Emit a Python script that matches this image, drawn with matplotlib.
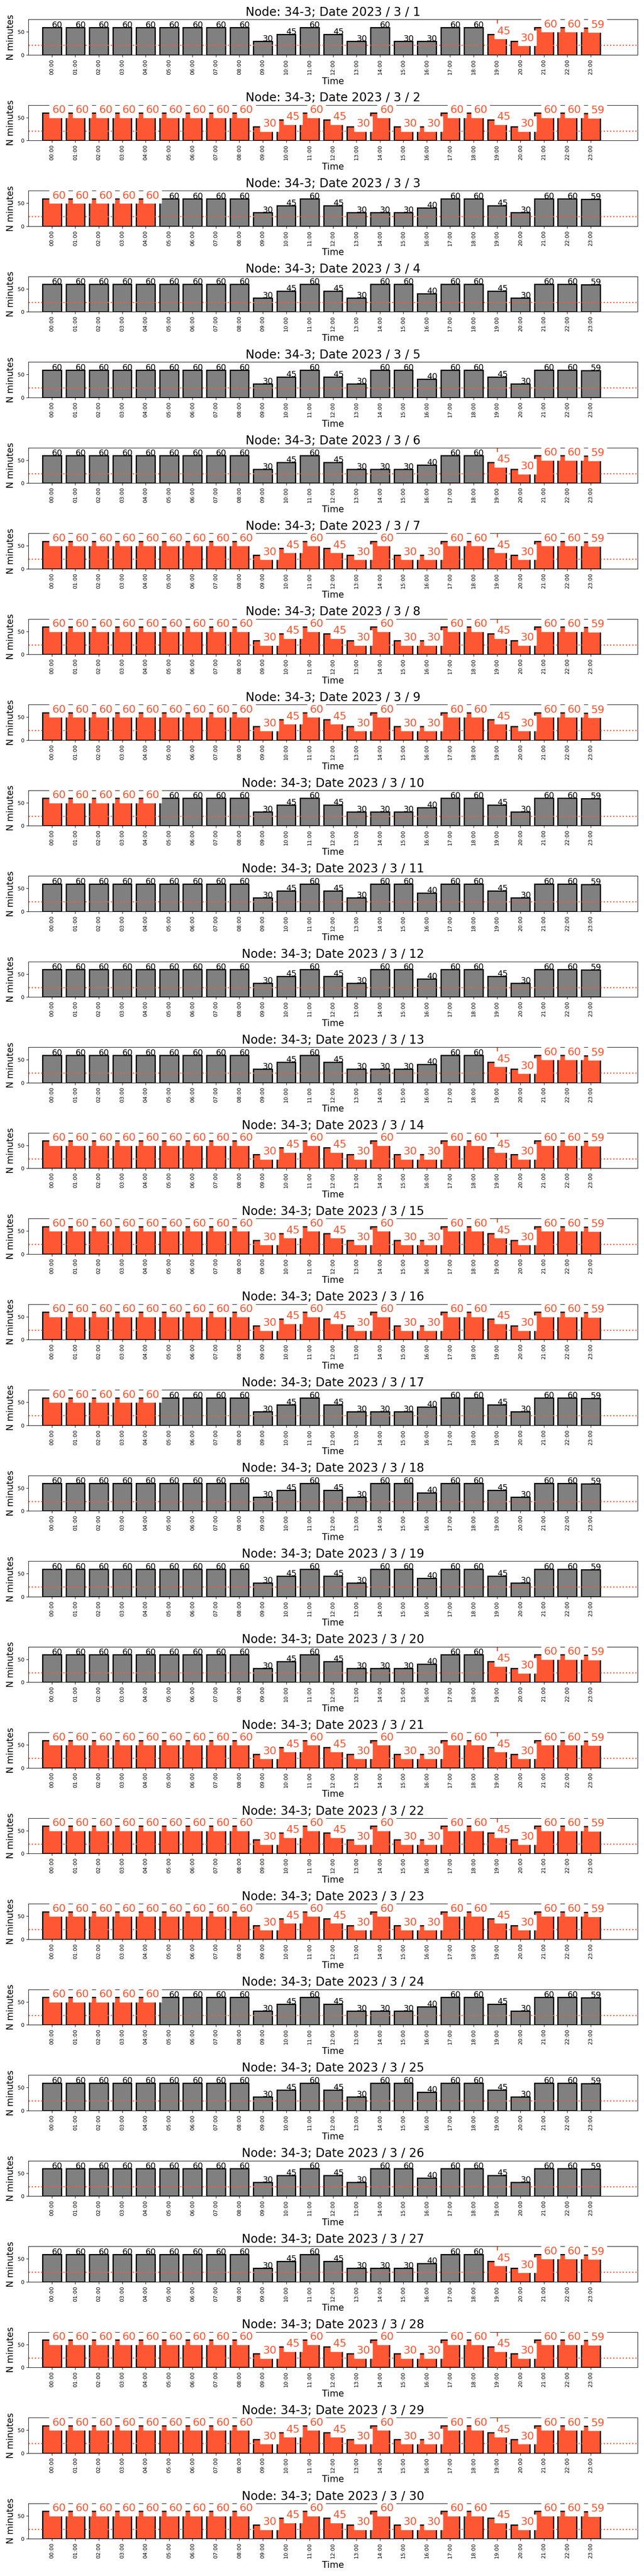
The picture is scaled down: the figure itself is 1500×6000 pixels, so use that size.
import matplotlib.pyplot as plt

# hour labels on the x axis
hours = ["00:00", "01:00", "02:00", "03:00", "04:00", "05:00", "06:00", "07:00",
         "08:00", "09:00", "10:00", "11:00", "12:00", "13:00", "14:00", "15:00",
         "16:00", "17:00", "18:00", "19:00", "20:00", "21:00", "22:00", "23:00"]

# minutes per hour, three day profiles seen in the chart
weekend_vals = [60, 60, 60, 60, 60, 60, 60, 60, 60, 30, 45, 60,
                45, 30, 60, 60, 40, 60, 60, 45, 30, 60, 60, 59]
midweek_vals = [60, 60, 60, 60, 60, 60, 60, 60, 60, 30, 45, 60,
                45, 30, 60, 30, 30, 60, 60, 45, 30, 60, 60, 59]
monfri_vals = [60, 60, 60, 60, 60, 60, 60, 60, 60, 30, 45, 60,
               45, 30, 30, 30, 40, 60, 60, 45, 30, 60, 60, 59]

days = list(range(1, 31))
day_profile = ["mid", "mid", "mf", "we", "we", "mf", "mid", "mid", "mid", "mf",
               "we", "we", "mf", "mid", "mid", "mid", "mf", "we", "we", "mf",
               "mid", "mid", "mid", "mf", "we", "we", "mf", "mid", "mid", "mid"]

# which hours are highlighted on each day
red_mode = ["eve", "all", "morn", "none", "none", "eve", "all", "all", "all", "morn",
            "none", "none", "eve", "all", "all", "all", "morn", "none", "none", "eve",
            "all", "all", "all", "morn", "none", "none", "eve", "all", "all", "all"]
red_hours = {"eve": [19, 20, 21, 22, 23],
             "morn": [0, 1, 2, 3, 4],
             "all": list(range(24)),
             "none": []}

# days with the red marker line at 19:00
marker_days = [1, 6, 7, 8, 13, 14, 15, 20, 21, 22, 27, 28, 29]

threshold = 21
RED = "#FF5733"

profiles = {"we": weekend_vals, "mid": midweek_vals, "mf": monfri_vals}

fig, axes = plt.subplots(len(days), 1, figsize=(15, 60))

for k, ax in enumerate(axes):
    vals = profiles[day_profile[k]]
    red = red_hours[red_mode[k]]
    x = list(range(len(hours)))
    colors = [RED if i in red else "gray" for i in x]

    ax.bar(x, vals, color=colors, edgecolor="black", linewidth=2, width=0.8)
    ax.axhline(threshold, color=RED, linestyle=":", linewidth=2)
    if days[k] in marker_days:
        ax.axvline(19, color=RED, linewidth=2, zorder=2)

    for i, v in enumerate(vals):
        if i in red:
            ax.text(i, v, str(v), fontsize=18, color=RED,
                    bbox=dict(facecolor="white", edgecolor="white"))
        else:
            ax.text(i, v, str(v), fontsize=14)

    ax.set_xticks(x)
    ax.set_xticklabels(hours, rotation=90, fontsize=9)
    ax.set_yticks([0, 50])
    ax.tick_params(axis="y", labelsize=9)
    ax.set_xlim(-1, 25)
    ax.set_ylim(0, 77)
    ax.set_title(f"Node: 34-3; Date 2023 / 3 / {days[k]}", fontsize=20)
    ax.set_xlabel("Time", fontsize=15)
    ax.set_ylabel("N minutes", fontsize=15)

fig.tight_layout()
fig.savefig("out.png", dpi=100)
